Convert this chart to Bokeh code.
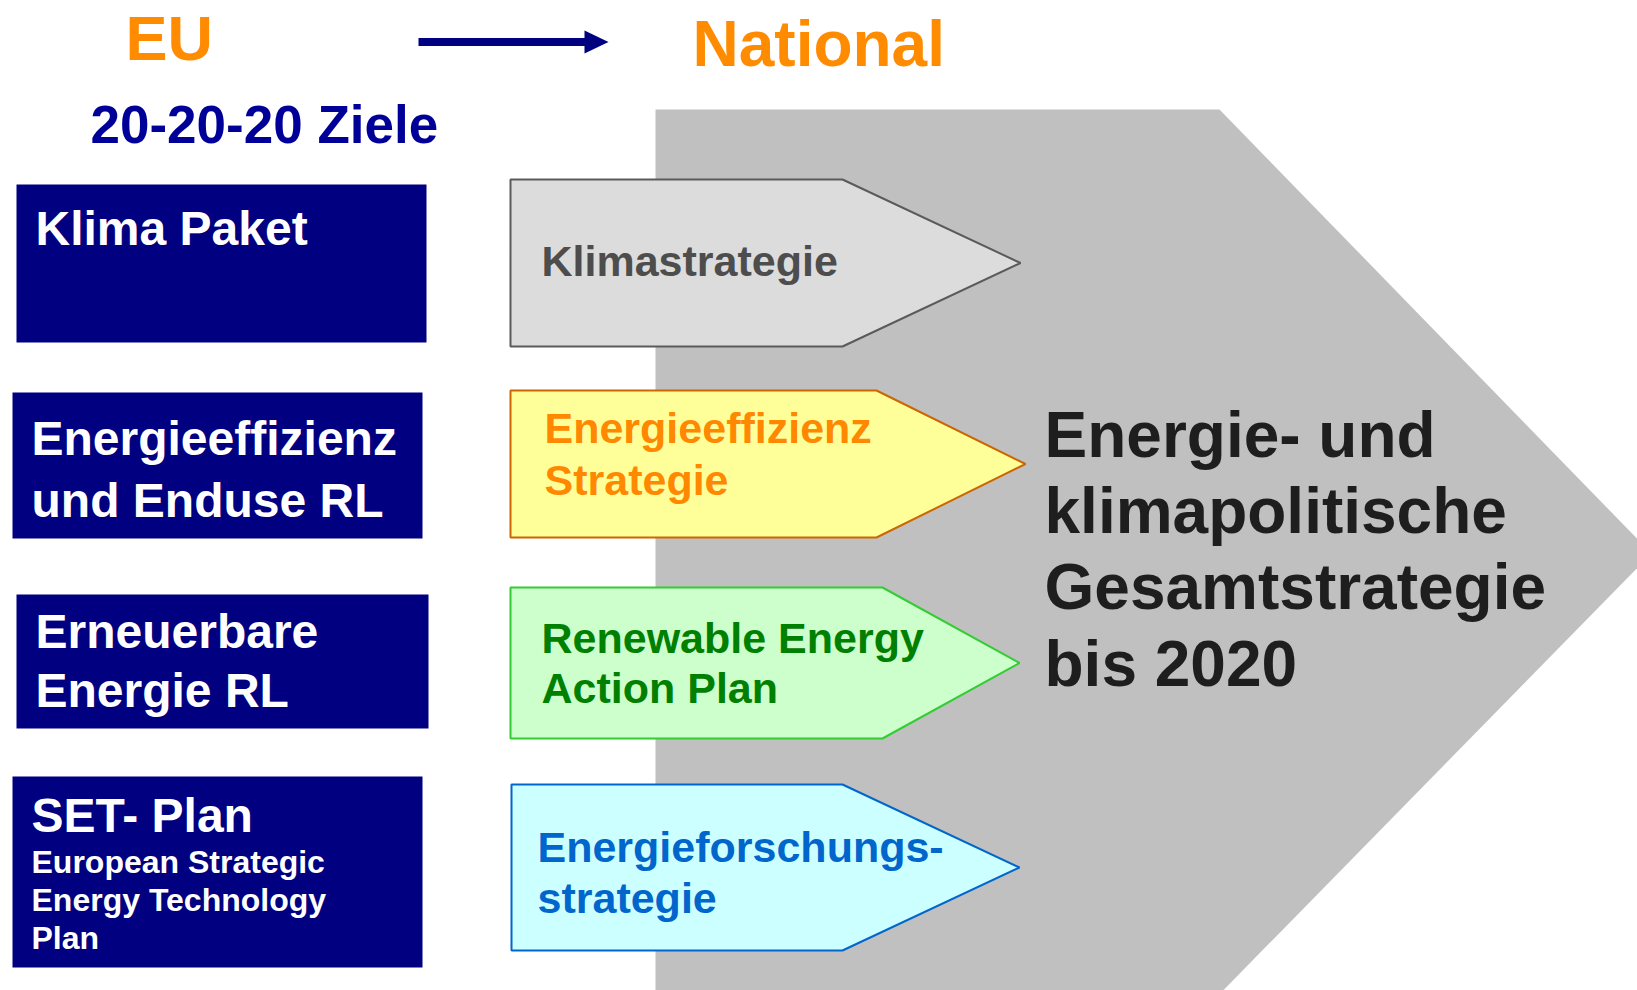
from bokeh.plotting import figure
from bokeh.models import Range1d, ColumnDataSource
from bokeh.core.properties import value
from bokeh.embed import file_html
from bokeh.resources import INLINE

# ---------------- content ----------------
header_left = "EU"
header_right = "National"
eu_goal = "20-20-20 Ziele"
eu_items = [["Klima Paket"],
            ["Energieeffizienz", "und Enduse RL"],
            ["Erneuerbare", "Energie RL"],
            ["SET- Plan"]]
set_plan_sub = ["European Strategic", "Energy Technology", "Plan"]
national_items = [["Klimastrategie"],
                  ["Energieeffizienz", "Strategie"],
                  ["Renewable Energy", "Action Plan"],
                  ["Energieforschungs-", "strategie"]]
overall = ["Energie- und", "klimapolitische", "Gesamtstrategie", "bis 2020"]

# ---------------- layout (pixel space of the slide) ----------------
W, H = 1637, 990
FONT = value("Liberation Sans")
BASE_SHIFT = 0.35  # baseline correction, fraction of font size

NAVY = "#000080"
ORANGE = "#ff8c00"

eu_boxes = [(16, 426, 184, 342), (12, 422, 392, 538), (16, 428, 594, 728), (12, 422, 776, 967)]
eu_text_x = [35, 31, 35, 31]
eu_baselines = [[245], [455, 517], [648, 707], [832]]
set_sub_x = 31
set_sub_baselines = [873, 911, 949]

chevrons = [(510, 842, 1020, 179, 346), (510, 876, 1025, 390, 537),
            (510, 882, 1019, 587, 738), (511, 842, 1019, 784, 950)]
chev_fill = ["#dcdcdc", "#ffff99", "#ccffcc", "#ccffff"]
chev_line = ["#5a5a5a", "#cc6600", "#33cc33", "#0066cc"]
chev_text_color = ["#4d4d4d", "#ff8800", "#008000", "#0066cc"]
chev_text_x = [541, 544, 541, 537]
chev_baselines = [[276], [443, 495], [653, 703], [862, 913]]

p = figure(width=W, height=H, x_range=Range1d(0, W), y_range=Range1d(H, 0),
           output_backend="svg", toolbar_location=None, min_border=0,
           background_fill_color="white", border_fill_color="white")
p.axis.visible = False
p.grid.visible = False
p.outline_line_color = None

# big grey arrow
p.patch([655, 1219, 1651, 1203, 655], [109, 109, 553, 1010, 1010],
        fill_color="#c0c0c0", line_color=None)

# EU boxes
bx = ColumnDataSource(dict(
    left=[b[0] for b in eu_boxes], right=[b[1] for b in eu_boxes],
    top=[b[2] for b in eu_boxes], bottom=[b[3] for b in eu_boxes]))
p.quad(left="left", right="right", top="top", bottom="bottom", source=bx,
       fill_color=NAVY, line_color=None)

# chevrons
xs, ys = [], []
for (l, s, tx, t, b) in chevrons:
    xs.append([l, s, tx, s, l])
    ys.append([t, t, (t + b) / 2, b, b])
p.patches(xs, ys, fill_color=chev_fill, line_color=chev_line, line_width=2)

# header arrow
p.line([418, 588], [41.5, 41.5], line_color=NAVY, line_width=8)
p.patch([584, 608, 584], [30, 41.5, 53], fill_color=NAVY, line_color=None)


def add_text(x, y, texts, size, color):
    y = [v - BASE_SHIFT * size for v in y]
    src = ColumnDataSource(dict(x=x, y=y, t=texts))
    p.text(x="x", y="y", text="t", source=src, text_font=FONT, text_font_style="bold",
           text_font_size=value(f"{size}px"), text_color=color,
           text_align="left", text_baseline="alphabetic")


add_text([125], [60], [header_left], 63, ORANGE)
add_text([692], [65.5], [header_right], 64, ORANGE)
add_text([90], [143], [eu_goal], 53, "#000099")

for i, lines in enumerate(eu_items):
    add_text([eu_text_x[i]] * len(lines), eu_baselines[i], lines, 48, "white")
add_text([set_sub_x] * len(set_plan_sub), set_sub_baselines, set_plan_sub, 32, "white")

for i, lines in enumerate(national_items):
    add_text([chev_text_x[i]] * len(lines), chev_baselines[i], lines, 43, chev_text_color[i])

add_text([1044] * len(overall), [457, 533, 609, 686], overall, 64, "#1e1e1e")

open("out.html", "w").write(file_html(p, INLINE))
